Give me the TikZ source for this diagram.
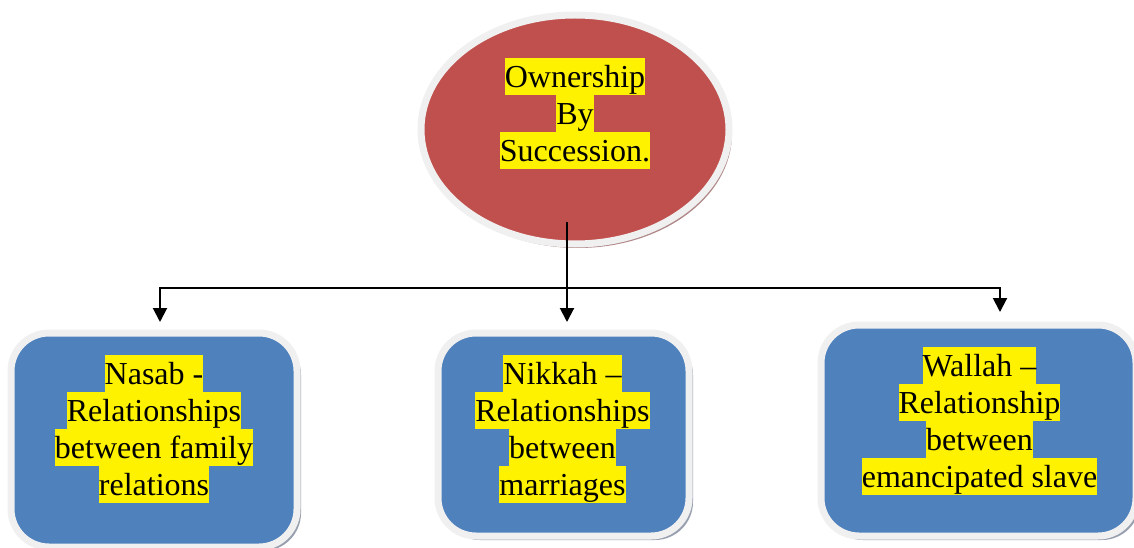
\documentclass[tikz,border=0pt]{standalone}
\usepackage{fontspec}
\setmainfont{Liberation Serif}
\usetikzlibrary{arrows.meta,shadows,shapes.geometric}
\definecolor{ownred}{HTML}{C0504D}
\definecolor{boxblue}{HTML}{4F81BD}
\definecolor{rim}{HTML}{F0F0F0}
\definecolor{redshadow}{HTML}{B08888}
\definecolor{blueshadow}{HTML}{98A0B0}
\newcommand{\hlrow}[1]{\colorbox{yellow}{\rule[-8pt]{0pt}{37pt}#1}}
\newcommand{\hltext}[1]{{\renewcommand{\arraystretch}{0}\setlength{\fboxsep}{0pt}\begin{tabular}{@{}c@{}}#1\end{tabular}}}
\begin{document}
\begin{tikzpicture}[x=1pt,y=-1pt,
  rimline/.style={draw=rim,line width=7pt},
  ovalnode/.style={ellipse,rimline,fill=ownred,inner sep=0pt,
     drop shadow={shadow xshift=3pt,shadow yshift=-4pt,fill=redshadow,opacity=1}},
  roundbox/.style={rectangle,rounded corners=38pt,rimline,fill=boxblue,inner sep=0pt,
     drop shadow={shadow xshift=4pt,shadow yshift=-4pt,fill=blueshadow,opacity=1}},
  txt/.style={inner sep=0pt,font=\fontsize{32}{37}\selectfont},
  conn/.style={line width=2pt,-{Triangle[width=14pt,length=14pt]}}]
\useasboundingbox (0,0) rectangle (1134,548);
\node[ovalnode,minimum width=308pt,minimum height=229pt] (own) at (575,129.5) {};
\node[roundbox,minimum width=286pt,minimum height=214pt] (nasab) at (154,440) {};
\node[roundbox,minimum width=251pt,minimum height=203pt] (nikkah) at (563.5,434.5) {};
\node[roundbox,minimum width=315pt,minimum height=211pt] (wallah) at (978.5,430.5) {};
\node[txt] (owntxt) at (575,114) {\hltext{\hlrow{Ownership}\\\hlrow{By}\\\hlrow{Succession.}}};
\node[txt] (nasabtxt) at (154,429) {\hltext{\hlrow{Nasab -}\\\hlrow{Relationships}\\\hlrow{between family}\\\hlrow{relations}}};
\node[txt] (nikkahtxt) at (562.5,429) {\hltext{\hlrow{Nikkah –}\\\hlrow{Relationships}\\\hlrow{between}\\\hlrow{marriages}}};
\node[txt] (wallahtxt) at (979.5,421) {\hltext{\hlrow{Wallah –}\\\hlrow{Relationship}\\\hlrow{between}\\\hlrow{emancipated slave}}};
\coordinate (stem) at (567,222);
\coordinate (tipB) at (567,322);
\coordinate (busL) at (160,288);
\coordinate (tipA) at (160,322);
\coordinate (busR) at (1000,288);
\coordinate (tipC) at (1000,312);
\draw[conn] (stem) -- (tipB);
\draw[conn] (busR) -- (busL) -- (tipA);
\draw[conn] (busL) -- (busR) -- (tipC);
\end{tikzpicture}
\end{document}
